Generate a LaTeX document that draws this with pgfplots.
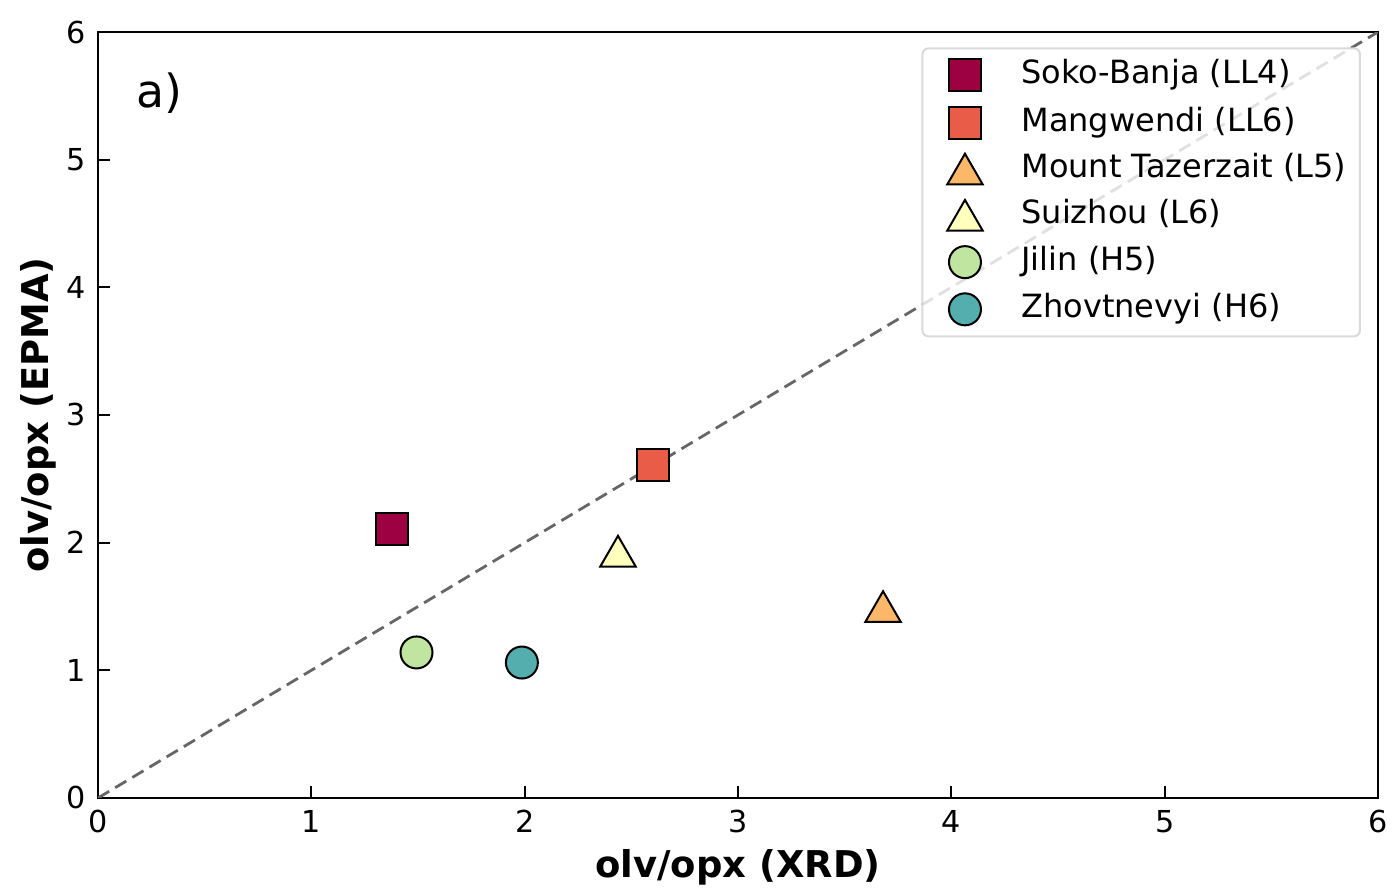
\documentclass[border=0pt]{standalone}
\usepackage{pgfplots}
\pgfplotsset{compat=1.18}
\usepackage{fontspec}
\setmainfont{DejaVu Sans}
\definecolor{cA}{HTML}{9E0142}
\definecolor{cB}{HTML}{E95C47}
\definecolor{cC}{HTML}{FDB768}
\definecolor{cD}{HTML}{FFFFBE}
\definecolor{cE}{HTML}{BFE5A0}
\definecolor{cF}{HTML}{54AEAD}
\begin{document}
\begin{tikzpicture}
\useasboundingbox (-9.8mm,-9.2mm) rectangle (129.6mm,79.8mm);
\begin{axis}[
  at={(0,0)}, anchor=south west,
  scale only axis, width=128mm, height=76.6mm,
  xmin=0, xmax=6, ymin=0, ymax=6,
  xtick={0,1,2,3,4,5,6}, ytick={0,1,2,3,4,5,6},
  xtick pos=lower, ytick pos=left,
  tick align=inside, major tick length=1.2mm,
  every tick/.style={black, line width=0.2mm},
  axis line style={line width=0.2mm},
  /pgf/number format/assume math mode=true,
  tick label style={font=\fontsize{8.6}{10}\selectfont},
  xlabel={olv/opx (XRD)}, ylabel={olv/opx (EPMA)},
  every axis x label/.style={at={([yshift=-6.9mm]axis description cs:0.5,0)}, anchor=center, font=\fontsize{10.5}{12}\selectfont\bfseries},
  every axis y label/.style={at={([xshift=-6.0mm]axis description cs:0,0.5)}, anchor=center, rotate=90, font=\fontsize{10.5}{12}\selectfont\bfseries},
  legend cell align=left,
  legend style={at={(rel axis cs:0.9867,0.980)}, anchor=north east,
    draw=black!15, line width=0.2mm, rounded corners=0.6mm,
    fill=white, fill opacity=0.8, text opacity=1, draw opacity=1,
    font=\fontsize{9.1}{10.5}\selectfont,
    row sep=1.52mm, column sep=0mm, inner xsep=1mm, inner ysep=1.1mm,
    nodes={inner ysep=0pt, inner xsep=0.35mm, text height=2.4mm, text depth=0.7mm}},
  legend image code/.code={%
    \path (-1.15mm,0) (7.2mm,0);
    \draw[fill opacity=1, draw opacity=1, mark repeat=2, mark phase=2] plot coordinates {(0mm,0mm)(2mm,0mm)(4mm,0mm)};},
  clip=true,
]
\addplot[forget plot, draw=black!60, line width=0.28mm, dash pattern=on 1.3mm off 0.7mm] coordinates {(0,0) (6,6)};
\addplot[only marks, mark=square*, mark size=1.6mm, draw=black, fill=cA, line width=0.2mm] coordinates {(1.379,2.109)};
\addlegendentry{Soko-Banja (LL4)}
\addplot[only marks, mark=square*, mark size=1.6mm, draw=black, fill=cB, line width=0.2mm] coordinates {(2.600,2.611)};
\addlegendentry{Mangwendi (LL6)}
\addplot[only marks, mark=triangle*, mark size=2.05mm, draw=black, fill=cC, line width=0.2mm, every mark/.append style={yshift=-0.5mm}] coordinates {(3.680,1.498)};
\addlegendentry{Mount Tazerzait (L5)}
\addplot[only marks, mark=triangle*, mark size=2.05mm, draw=black, fill=cD, line width=0.2mm, every mark/.append style={yshift=-0.5mm}] coordinates {(2.4375,1.932)};
\addlegendentry{Suizhou (L6)}
\addplot[only marks, mark=*, mark size=1.6mm, draw=black, fill=cE, line width=0.2mm] coordinates {(1.493,1.140)};
\addlegendentry{Jilin (H5)}
\addplot[only marks, mark=*, mark size=1.6mm, draw=black, fill=cF, line width=0.2mm] coordinates {(1.987,1.061)};
\addlegendentry{Zhovtnevyi (H6)}
\node[font=\fontsize{13}{15}\selectfont, anchor=center] at (rel axis cs:0.0477,0.920) {a)};
\end{axis}
\end{tikzpicture}
\end{document}
